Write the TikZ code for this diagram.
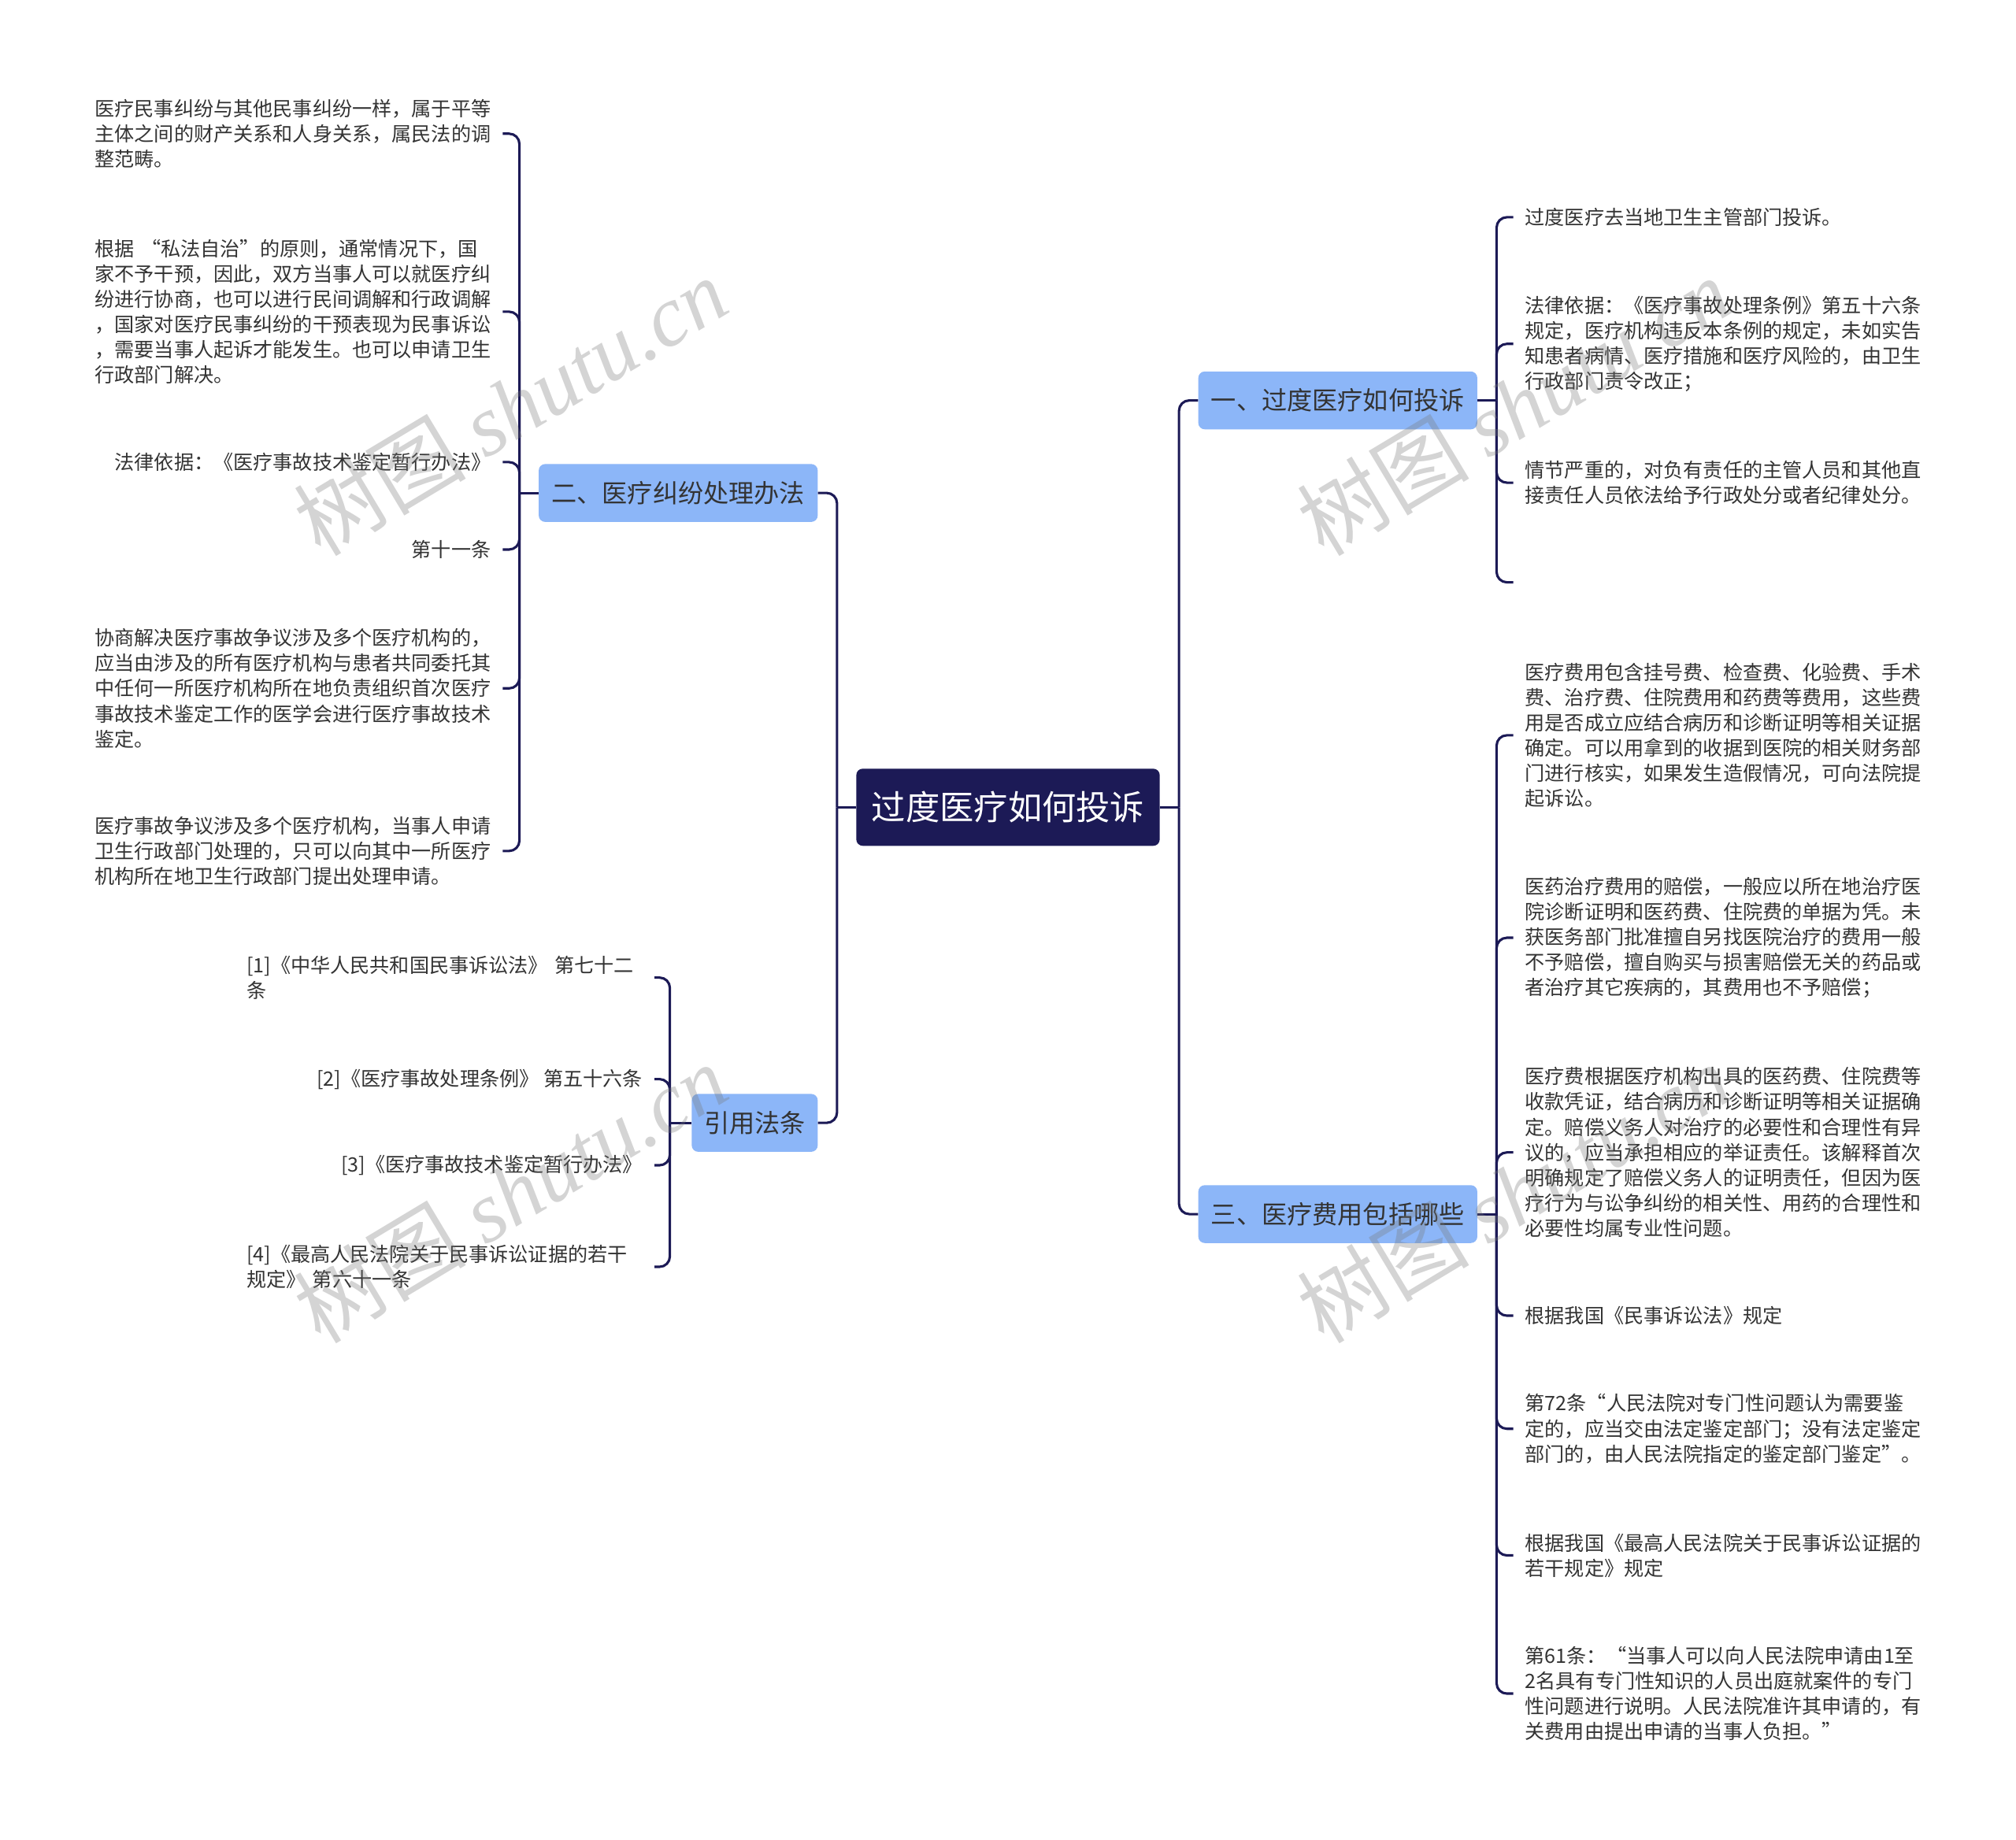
\documentclass[tikz,border=0pt]{standalone}
\usepackage{fontspec}
\setmainfont{Noto Sans CJK SC}
\newfontfamily\wmlatin{Liberation Serif}
\definecolor{navy}{RGB}{28,26,86}
\definecolor{bblue}{RGB}{140,182,248}
\definecolor{txt}{RGB}{51,51,51}
\definecolor{wm}{RGB}{120,120,120}
\begin{document}
\begin{tikzpicture}[x=1pt,y=-1pt,
  conn/.style={draw=navy, line width=1.9pt, rounded corners=8pt},
  central/.style={fill=navy, rounded corners=5pt, text=white, minimum width=236pt, minimum height=60pt, inner sep=0pt, font=\fontsize{26.5}{30}\selectfont},
  branch/.style={fill=bblue, rounded corners=5pt, text=txt, minimum height=45pt, inner sep=0pt, font=\fontsize{19.7}{24}\selectfont},
  leaf/.style={text=txt, inner xsep=9pt, inner ysep=1pt, align=left, font=\fontsize{15.4}{19.7}\selectfont},
  leafw/.style={leaf, text width=308pt},
  wmark/.style={text=wm, opacity=0.32, rotate=31, inner sep=0pt}
]
\useasboundingbox (0,0) rectangle (1568,1431);

% central and branches
\node[central] (c) at (784,628) {过度医疗如何投诉};
\node[branch, minimum width=217pt] (b1) at (1040.5,311.5) {一、过度医疗如何投诉};
\node[branch, minimum width=217pt] (b3) at (1040.5,944.5) {三、医疗费用包括哪些};
\node[branch, minimum width=217pt] (b2) at (527.5,383.5) {二、医疗纠纷处理办法};
\node[branch, minimum width=98pt] (b4) at (587,873.5) {引用法条};

\coordinate (R) at (917,628);
\coordinate (L) at (651,628);
\draw[conn] (c.east) -- (R);
\draw[conn] (R) |- (b1.west);
\draw[conn] (R) |- (b3.west);
\draw[conn] (c.west) -- (L);
\draw[conn] (L) |- (b2.east);
\draw[conn] (L) |- (b4.east);

% branch 1 leaves
\node[leafw, anchor=west] (l11) at (1177,169) {过度医疗去当地卫生主管部门投诉。};
\node[leafw, anchor=west] (l12) at (1177,267.5) {法律依据：《医疗事故处理条例》第五十六条\\规定，医疗机构违反本条例的规定，未如实告\\知患者病情、医疗措施和医疗风险的，由卫生\\行政部门责令改正；};
\node[leafw, anchor=west] (l13) at (1177,375.5) {情节严重的，对负有责任的主管人员和其他直\\接责任人员依法给予行政处分或者纪律处分。};
\coordinate (e14) at (1177,453);
\coordinate (J1) at (1164,311.5);
\draw[conn] (b1.east) -- (J1);
\foreach \t in {l11,l12,l13} \draw[conn] (J1) |- (\t.west);
\draw[conn] (J1) |- (e14);

% branch 3 leaves
\node[leafw, anchor=west] (l31) at (1177,572) {医疗费用包含挂号费、检查费、化验费、手术\\费、治疗费、住院费用和药费等费用，这些费\\用是否成立应结合病历和诊断证明等相关证据\\确定。可以用拿到的收据到医院的相关财务部\\门进行核实，如果发生造假情况，可向法院提\\起诉讼。};
\node[leafw, anchor=west] (l32) at (1177,729.5) {医药治疗费用的赔偿，一般应以所在地治疗医\\院诊断证明和医药费、住院费的单据为凭。未\\获医务部门批准擅自另找医院治疗的费用一般\\不予赔偿，擅自购买与损害赔偿无关的药品或\\者治疗其它疾病的，其费用也不予赔偿；};
\node[leafw, anchor=west] (l33) at (1177,896.5) {医疗费根据医疗机构出具的医药费、住院费等\\收款凭证，结合病历和诊断证明等相关证据确\\定。赔偿义务人对治疗的必要性和合理性有异\\议的，应当承担相应的举证责任。该解释首次\\明确规定了赔偿义务人的证明责任，但因为医\\疗行为与讼争纠纷的相关性、用药的合理性和\\必要性均属专业性问题。};
\node[leafw, anchor=west] (l34) at (1177,1023.5) {根据我国《民事诉讼法》规定};
\node[leafw, anchor=west] (l35) at (1177,1111.5) {第72条“人民法院对专门性问题认为需要鉴\\定的，应当交由法定鉴定部门；没有法定鉴定\\部门的，由人民法院指定的鉴定部门鉴定”。};
\node[leafw, anchor=west] (l36) at (1177,1210) {根据我国《最高人民法院关于民事诉讼证据的\\若干规定》规定};
\node[leafw, anchor=west] (l37) at (1177,1317.5) {第61条：“当事人可以向人民法院申请由1至\\2名具有专门性知识的人员出庭就案件的专门\\性问题进行说明。人民法院准许其申请的，有\\关费用由提出申请的当事人负担。”};
\coordinate (J3) at (1164,944.5);
\draw[conn] (b3.east) -- (J3);
\foreach \t in {l31,l32,l33,l34,l35,l36,l37} \draw[conn] (J3) |- (\t.west);

% branch 2 leaves
\node[leafw, anchor=east] (l21) at (391,104) {医疗民事纠纷与其他民事纠纷一样，属于平等\\主体之间的财产关系和人身关系，属民法的调\\整范畴。};
\node[leafw, anchor=east] (l22) at (391,242.5) {根据 “私法自治”的原则，通常情况下，国\\家不予干预，因此，双方当事人可以就医疗纠\\纷进行协商，也可以进行民间调解和行政调解\\，国家对医疗民事纠纷的干预表现为民事诉讼\\，需要当事人起诉才能发生。也可以申请卫生\\行政部门解决。};
\node[leaf, anchor=east] (l23) at (391,359.5) {法律依据：《医疗事故技术鉴定暂行办法》};
\node[leaf, anchor=east] (l24) at (391,427.5) {第十一条};
\node[leafw, anchor=east] (l25) at (391,535.5) {协商解决医疗事故争议涉及多个医疗机构的，\\应当由涉及的所有医疗机构与患者共同委托其\\中任何一所医疗机构所在地负责组织首次医疗\\事故技术鉴定工作的医学会进行医疗事故技术\\鉴定。};
\node[leafw, anchor=east] (l26) at (391,662) {医疗事故争议涉及多个医疗机构，当事人申请\\卫生行政部门处理的，只可以向其中一所医疗\\机构所在地卫生行政部门提出处理申请。};
\coordinate (J2) at (404,383.5);
\draw[conn] (b2.west) -- (J2);
\foreach \t in {l21,l22,l23,l24,l25,l26} \draw[conn] (J2) |- (\t.east);

% branch 4 leaves
\node[leafw, anchor=east] (l41) at (509,760.5) {[1]《中华人民共和国民事诉讼法》 第七十二\\条};
\node[leaf, anchor=east] (l42) at (509,839.5) {[2]《医疗事故处理条例》 第五十六条};
\node[leaf, anchor=east] (l43) at (509,906.5) {[3]《医疗事故技术鉴定暂行办法》};
\node[leafw, anchor=east] (l44) at (509,985.5) {[4]《最高人民法院关于民事诉讼证据的若干\\规定》 第六十一条};
\coordinate (J4) at (521,873.5);
\draw[conn] (b4.west) -- (J4);
\foreach \t in {l41,l42,l43,l44} \draw[conn] (J4) |- (\t.east);

% watermarks
\foreach \p in {(397,316),(1177,316),(397,928),(1177,928)}
  \node[wmark] at \p {\fontsize{67}{67}\selectfont 树图 {\wmlatin\itshape shutu.cn}};
\end{tikzpicture}
\end{document}
